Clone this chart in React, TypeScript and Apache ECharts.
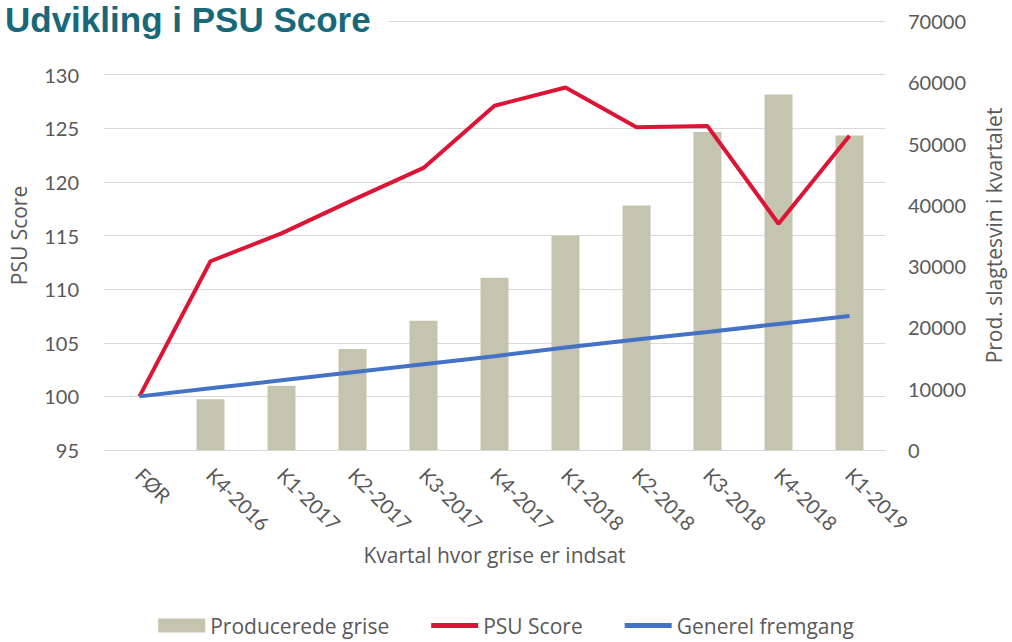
import React, { useEffect, useRef } from "react";
import * as echarts from "echarts";

const categories = ["FØR", "K4-2016", "K1-2017", "K2-2017", "K3-2017", "K4-2017", "K1-2018", "K2-2018", "K3-2018", "K4-2018", "K1-2019"];
const producedPigs = [null, 8300, 10500, 16500, 21100, 28100, 35000, 39900, 51900, 58000, 51300];
const psuScore = [100, 112.6, 115.2, 118.3, 121.3, 127.1, 128.8, 125.1, 125.2, 116.1, 124.3];
const generalProgress = [100, 100.75, 101.5, 102.25, 103, 103.75, 104.55, 105.3, 106, 106.75, 107.5];
const leftTicks = { min: 95, max: 135, interval: 5 };
const rightTicks = { min: 0, max: 70000, interval: 10000 };

const FONT = "Lato";
const NAME_FONT = "Open Sans";
const GREY = "#595959";
const LINE_ICON = "path://M0,0 L47,0 L47,5 L0,5 Z";

export default function App() {
  const ref = useRef<HTMLDivElement>(null);
  useEffect(() => {
    document.body.style.margin = "0";
    const chart = echarts.init(ref.current!, null, { renderer: "svg" });
    chart.setOption({
      animation: false,
      backgroundColor: "#ffffff",
      title: {
        text: "Udvikling i PSU Score",
        left: 0,
        top: 0,
        padding: [2, 18, 6, 5],
        backgroundColor: "#ffffff",
        textStyle: { fontFamily: "Liberation Sans", fontWeight: "bold", fontSize: 35, color: "#17697a" },
        z: 10,
      },
      grid: { left: 104, right: 120, top: 21, bottom: 192, containLabel: false },
      legend: {
        bottom: 1,
        left: "center",
        itemWidth: 47,
        itemHeight: 14,
        itemGap: 42,
        symbolKeepAspect: true,
        textStyle: { fontFamily: NAME_FONT, fontSize: 21, color: GREY },
        data: [
          { name: "Producerede grise", icon: "rect" },
          { name: "PSU Score", icon: LINE_ICON },
          { name: "Generel fremgang", icon: LINE_ICON },
        ],
      },
      xAxis: {
        type: "category",
        data: categories,
        boundaryGap: true,
        name: "Kvartal hvor grise er indsat",
        nameLocation: "middle",
        nameGap: 94,
        nameTextStyle: { fontFamily: NAME_FONT, fontSize: 21, color: GREY },
        axisLine: { show: true, lineStyle: { color: "#d9d9d9", width: 1 } },
        axisTick: { show: false },
        axisLabel: { rotate: -45, margin: 21, fontFamily: FONT, fontSize: 20, color: GREY, interval: 0 },
      },
      yAxis: [
        {
          type: "value",
          min: leftTicks.min,
          max: leftTicks.max,
          interval: leftTicks.interval,
          name: "PSU Score",
          nameLocation: "middle",
          nameRotate: 90,
          nameGap: 75,
          nameTextStyle: { fontFamily: NAME_FONT, fontSize: 21, color: GREY },
          axisLine: { show: false },
          axisTick: { show: false },
          splitLine: { show: true, lineStyle: { color: "#d9d9d9", width: 1 } },
          axisLabel: {
            margin: 25,
            fontFamily: FONT,
            fontSize: 20,
            color: GREY,
            formatter: (v: number) => (v === leftTicks.max ? "" : String(v)),
          },
        },
        {
          type: "value",
          min: rightTicks.min,
          max: rightTicks.max,
          interval: rightTicks.interval,
          name: "Prod. slagtesvin i kvartalet",
          nameLocation: "middle",
          nameRotate: 90,
          nameGap: 98,
          nameTextStyle: { fontFamily: NAME_FONT, fontSize: 21, color: GREY },
          axisLine: { show: false },
          axisTick: { show: false },
          splitLine: { show: false },
          axisLabel: { margin: 23, fontFamily: FONT, fontSize: 20, color: GREY, formatter: (v: number) => String(v) },
        },
      ],
      series: [
        {
          name: "Producerede grise",
          type: "bar",
          yAxisIndex: 1,
          barWidth: 28,
          data: producedPigs,
          itemStyle: { color: "#c5c4ae" },
        },
        {
          name: "PSU Score",
          type: "line",
          yAxisIndex: 0,
          data: psuScore,
          symbol: "none",
          lineStyle: { color: "#dc1436", width: 4 },
          itemStyle: { color: "#dc1436" },
        },
        {
          name: "Generel fremgang",
          type: "line",
          yAxisIndex: 0,
          data: generalProgress,
          symbol: "none",
          lineStyle: { color: "#4472c4", width: 4 },
          itemStyle: { color: "#4472c4" },
        },
      ],
    });
    return () => chart.dispose();
  }, []);
  return <div ref={ref} style={{ width: 1012, height: 642 }} />;
}
